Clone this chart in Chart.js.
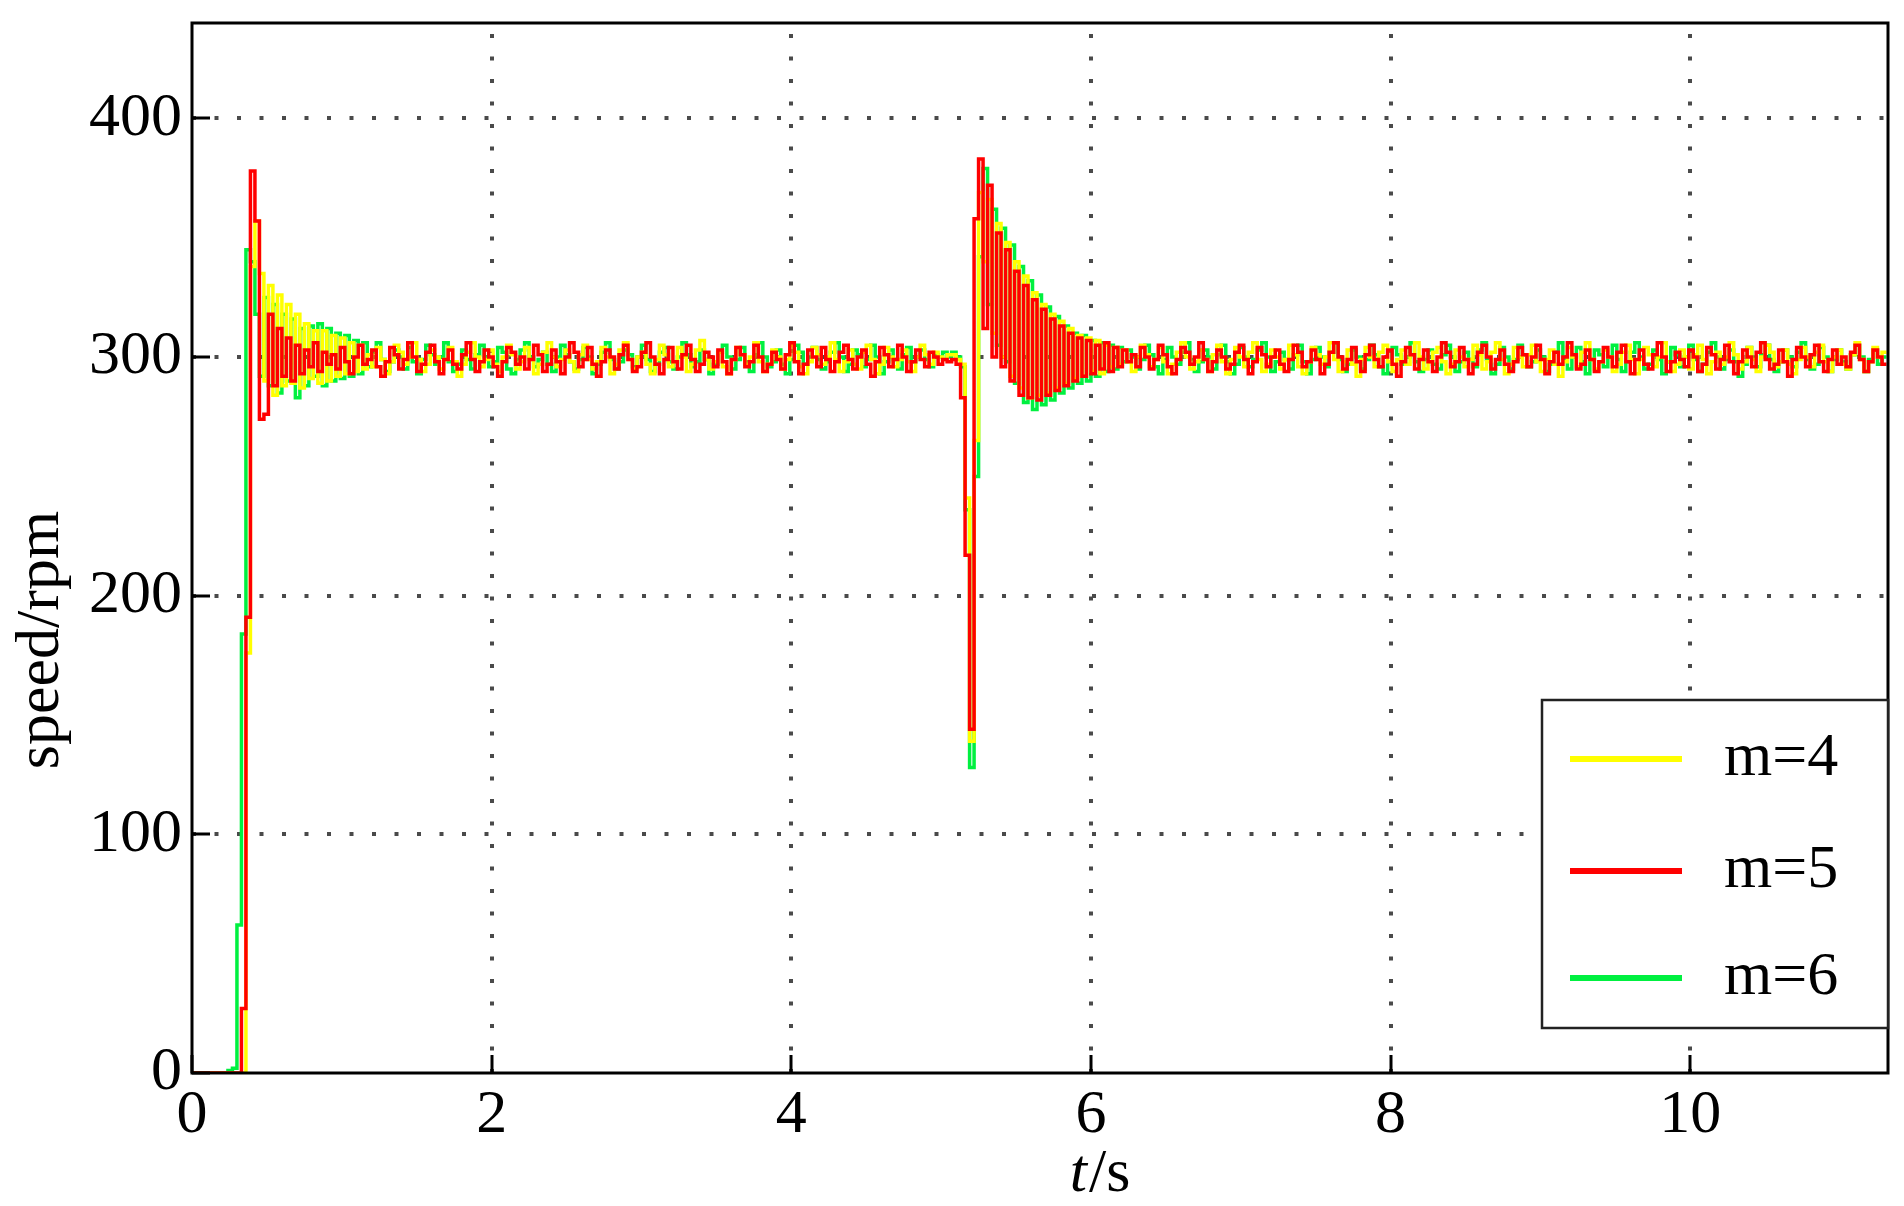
<!DOCTYPE html>
<html><head><meta charset="utf-8">
<script src="https://cdn.jsdelivr.net/npm/chart.js@4.4.0/dist/chart.umd.min.js"></script>
<style>html,body{margin:0;padding:0;background:#fff;overflow:hidden}</style>
</head><body>
<canvas id="c" width="1904" height="1206" style="display:block"></canvas>
<script>
// ---- data (sampled every sampleStep seconds, starting at t = 0) ----
const sampleStep = 0.03;
const seriesLabels = ['m=4', 'm=5', 'm=6'];
const seriesColors = ['#ffff00', '#ff0000', '#00f040'];
const xTicks = [0, 2, 4, 6, 8, 10];
const yTicks = [0, 100, 200, 300, 400];
const xTitleItalic = 't', xTitleRest = '/s';
const yTitle = 'speed/rpm';

const m4 = [
0,0,0,0,0,0,0,0,0,0,0,0,0,
176,338,357,335,290,330,284,326,288,322,289,318,287,314,291,311,289,311,290,309,292,308,293,306,294,305,295,
301,296,304,299,293,298,305,302,297,300,
306,299,294,297,303,300,295,299,304,298,
292,297,302,306,300,296,299,303,297,294,
300,305,301,295,298,304,299,293,297,302,
306,300,296,299,303,298,294,301,305,299,
295,298,304,300,293,297,303,306,299,295,
300,302,297,293,299,305,301,296,298,304,
300,294,297,303,307,299,295,298,302,296,
293,299,304,301,297,300,306,298,294,297,
303,300,295,299,305,302,296,293,298,304,
301,297,300,306,299,294,298,303,297,295,
302,305,299,293,297,304,300,296,299,303,
298,294,300,305,301,297,302,300,299,301,
301,299,297,241,139,265,369,340,366,310,
356,300,348,292,340,287,334,283,327,284,
322,285,318,287,315,289,312,291,309,292,
308,294,307,293,305,296,304,297,
303,298,294,300,305,301,296,299,304,298,
293,297,302,306,300,295,298,303,299,294,
301,305,298,293,299,304,300,296,302,306,
299,294,297,303,300,295,299,305,301,296,
293,298,304,301,297,300,306,299,294,298,
303,297,292,299,304,300,296,302,305,298,
294,299,303,297,301,306,300,295,298,302,
304,298,293,297,303,300,296,299,305,301,
295,298,302,306,299,293,297,304,300,296,
301,305,298,294,299,303,297,292,298,304,
300,296,302,306,299,295,298,303,300,294,
297,302,305,299,293,299,304,301,296,300,
306,298,294,297,303,300,295,301,305,299,
293,298,302,297,300,306,301,295,298,304,
299,294,300,305,302,296,298,303,297,293,
299,304,300,296,302,305,298,294,300,303,
297,295,301,306,299,294,298,304,300,302
];

const m5 = [
0,0,0,0,0,0,0,0,0,0,0,0,
27,191,378,357,274,276,318,288,312,292,308,290,305,293,303,296,306,294,
302,297,301,295,304,298,293,300,305,297,
299,303,296,292,298,304,301,295,299,306,
300,294,297,302,305,298,293,299,303,297,
295,301,306,299,294,298,303,300,296,292,
298,304,302,297,300,295,299,305,301,294,
297,303,298,293,300,306,302,296,299,304,
297,292,298,303,300,295,301,305,299,294,
296,302,306,300,297,293,299,304,298,295,
301,305,299,294,297,302,300,296,303,298,
293,299,304,301,296,298,305,300,294,297,
302,299,295,301,306,298,293,297,303,300,
296,304,299,294,298,302,305,299,295,300,
303,297,292,298,304,301,296,299,305,300,
294,298,303,299,296,302,300,297,299,298,
299,297,283,217,144,358,383,312,372,300,
352,296,345,290,336,284,330,283,324,282,
320,284,316,286,313,288,310,290,308,292,
307,293,305,295,306,294,304,296,
303,298,301,296,304,300,295,299,305,301,
296,293,299,304,302,297,300,306,299,294,
298,303,300,295,297,302,305,299,293,298,
304,301,296,300,303,297,294,299,305,302,
296,298,303,299,293,297,302,306,300,295,
299,304,298,294,301,305,299,296,300,303,
297,292,298,304,301,295,299,303,298,294,
300,306,302,296,298,304,299,293,297,302,
305,300,295,299,303,297,294,298,304,301,
296,300,305,299,293,298,302,297,300,306,
301,295,297,303,299,294,298,304,300,296,
302,305,298,293,299,303,297,295,301,306,
300,294,298,302,299,296,303,300,294,297,
304,301,295,299,305,298,293,298,303,300,
296,302,306,299,295,297,303,298,292,299,
304,300,296,301,305,298,294,299,303,297,
300,296,302,305,299,294,298,303,300,297
];

const m6 = [
0,0,0,0,0,0,0,0,0,1,2,
62,184,345,340,318,292,325,288,322,285,318,290,316,283,312,288,313,292,314,288,312,290,310,291,309,292,307,293,306,
296,302,306,299,294,298,303,300,295,304,
298,293,299,305,301,297,300,306,298,294,
297,303,299,295,301,305,300,296,298,304,
302,295,293,299,303,306,300,296,299,302,
297,294,300,305,301,298,295,299,304,300,
293,297,302,306,299,295,298,303,301,296,
300,305,299,294,297,302,304,298,295,300,
306,301,296,298,303,299,293,297,302,305,
300,295,299,304,298,294,301,306,300,296,
298,303,297,293,299,305,302,297,300,304,
299,295,298,302,306,300,294,297,303,301,
296,299,305,300,293,298,303,299,295,301,
304,298,300,303,299,296,301,300,302,300,
302,300,296,236,128,250,342,379,322,362,
305,354,298,347,289,338,281,332,278,326,
280,321,282,317,285,313,287,310,289,309,
290,307,292,306,294,305,295,304,
298,303,300,295,299,305,301,296,293,299,
304,300,297,302,306,299,294,298,303,300,
295,301,305,298,293,297,304,300,296,299,
303,306,300,294,298,302,299,295,301,305,
298,293,299,304,300,296,302,306,299,294,
297,303,300,295,299,305,301,296,293,298,
304,301,297,300,306,298,294,299,303,297,
295,301,305,300,294,298,302,299,296,303,
306,299,293,297,304,300,295,299,305,301,
296,298,303,300,294,297,302,306,299,295,
300,304,298,293,299,303,301,296,300,305,
299,294,298,302,306,300,295,297,303,299,
293,298,304,301,296,300,305,299,294,297,
302,306,300,295,299,303,298,292,297,304,
300,296,301,305,299,294,298,303,300,296,
302,306,299,295,297,304,300,294,299,303,
298,295,301,305,300,294,299,303,297,300
];

const seriesValues = [m4, m5, m6];
const drawOrder = [1, 0, 2]; // red on top, then yellow, then green

const FONT = '"Liberation Serif", "Times New Roman", serif';

const framePlugin = {
  id: 'frame',
  beforeDatasetsDraw(chart) {
    const {ctx, chartArea: a, scales: {x, y}} = chart;
    ctx.save();
    ctx.strokeStyle = '#4a4a4a';
    ctx.lineWidth = 4;
    ctx.setLineDash([4, 18.5]);
    xTicks.forEach(v => {
      if (v === xTicks[0]) return;
      const px = Math.round(x.getPixelForValue(v));
      ctx.beginPath(); ctx.moveTo(px, a.bottom); ctx.lineTo(px, a.top); ctx.stroke();
    });
    yTicks.forEach(v => {
      if (v === yTicks[0]) return;
      const py = Math.round(y.getPixelForValue(v));
      ctx.beginPath(); ctx.moveTo(a.left, py); ctx.lineTo(a.right, py); ctx.stroke();
    });
    ctx.restore();
  },
  afterDraw(chart) {
    const {ctx, chartArea: a, scales: {x, y}} = chart;
    ctx.save();
    // inward ticks
    ctx.strokeStyle = '#000';
    ctx.lineWidth = 3;
    xTicks.forEach(v => {
      const px = Math.round(x.getPixelForValue(v));
      ctx.beginPath(); ctx.moveTo(px, a.bottom); ctx.lineTo(px, a.bottom - 18); ctx.stroke();
    });
    yTicks.forEach(v => {
      const py = Math.round(y.getPixelForValue(v));
      ctx.beginPath(); ctx.moveTo(a.left, py); ctx.lineTo(a.left + 18, py); ctx.stroke();
    });
    // frame
    ctx.lineWidth = 3;
    ctx.strokeRect(a.left, a.top, a.right - a.left, a.bottom - a.top);

    // legend box (inside plot, lower right)
    const bl = a.right - 346, bt = a.bottom - 373, bb = a.bottom - 45;
    ctx.fillStyle = '#fff';
    ctx.fillRect(bl, bt, a.right - bl, bb - bt);
    ctx.lineWidth = 2.5;
    ctx.strokeStyle = '#222';
    ctx.strokeRect(bl, bt, a.right - bl, bb - bt);
    const rowY = [59, 171, 278];
    ctx.font = '62px ' + FONT;
    ctx.textBaseline = 'alphabetic';
    ctx.textAlign = 'left';
    seriesLabels.forEach((lab, i) => {
      const yy = bt + rowY[i];
      ctx.strokeStyle = seriesColors[i];
      ctx.lineWidth = 6;
      ctx.lineCap = 'butt';
      ctx.beginPath(); ctx.moveTo(bl + 28, yy); ctx.lineTo(bl + 140, yy); ctx.stroke();
      ctx.fillStyle = '#000';
      ctx.fillText(lab, bl + 182, yy + 16);
    });

    // axis titles
    ctx.fillStyle = '#000';
    ctx.font = 'italic 62px ' + FONT;
    const w1 = ctx.measureText(xTitleItalic).width;
    ctx.font = '62px ' + FONT;
    const w2 = ctx.measureText(xTitleRest).width;
    const cx = (a.left + a.right) / 2 + 59;
    let sx = cx - (w1 + w2) / 2;
    ctx.font = 'italic 62px ' + FONT;
    ctx.fillText(xTitleItalic, sx, 1191);
    ctx.font = '62px ' + FONT;
    ctx.fillText(xTitleRest, sx + w1 + 2, 1191);

    ctx.save();
    ctx.translate(42, (a.top + a.bottom) / 2 + 92);
    ctx.rotate(-Math.PI / 2);
    ctx.textAlign = 'center';
    ctx.textBaseline = 'middle';
    ctx.fillText(yTitle, 0, 0);
    ctx.restore();
    ctx.restore();
  }
};

const datasets = seriesValues.map((vals, i) => ({
  label: seriesLabels[i],
  data: vals.map((v, k) => ({x: k * sampleStep, y: v})),
  borderColor: seriesColors[i],
  backgroundColor: seriesColors[i],
  borderWidth: 3.5,
  pointRadius: 0,
  stepped: 'after',
  fill: false,
  order: drawOrder[i],
  tension: 0
}));

new Chart(document.getElementById('c'), {
  type: 'line',
  data: {datasets},
  options: {
    responsive: false,
    animation: false,
    devicePixelRatio: 1,
    layout: {padding: {left: 0, top: 23, right: 16, bottom: 0}},
    plugins: {legend: {display: false}, tooltip: {enabled: false}},
    scales: {
      x: {
        type: 'linear', min: 0, max: 11.32,
        grid: {display: false, drawTicks: false},
        border: {display: false},
        afterBuildTicks: s => { s.ticks = xTicks.map(v => ({value: v})); },
        afterFit: s => { s.height = 133; s.paddingLeft = 0; s.paddingRight = 0; },
        ticks: {color: '#000', padding: 6, maxRotation: 0, autoSkip: false,
                font: {family: FONT, size: 62}}
      },
      y: {
        type: 'linear', min: 0, max: 440,
        grid: {display: false, drawTicks: false},
        border: {display: false},
        afterBuildTicks: s => { s.ticks = yTicks.map(v => ({value: v})); },
        afterFit: s => { s.width = 192; s.paddingTop = 0; s.paddingBottom = 0; },
        ticks: {color: '#000', padding: 10, autoSkip: false,
                font: {family: FONT, size: 62}}
      }
    }
  },
  plugins: [framePlugin]
});
</script>
</body></html>
